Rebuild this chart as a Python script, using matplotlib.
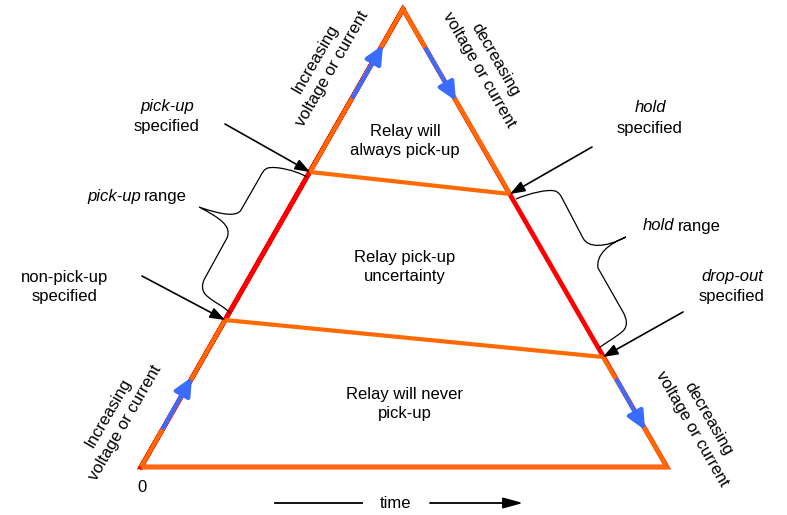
import matplotlib
matplotlib.use("Agg")
import matplotlib.pyplot as plt
from matplotlib.patches import FancyArrowPatch, PathPatch
from matplotlib.path import Path

plt.rcParams['font.family'] = ['Liberation Sans', 'DejaVu Sans']

# ---------------------------
# Geometry (pixel coords of the 787x515 picture, y down)
# ---------------------------
BOTTOM_LEFT = (141, 467)
APEX = (403, 9)
BOTTOM_RIGHT = (667, 467)
PICKUP = (310, 172)
NON_PICKUP = (225, 320)
HOLD = (510, 194)
DROP_OUT = (603, 357)

# blue direction arrows along the sides (start, tip)
BLUE_ARROWS = [((353, 97), (383, 45)),
               ((426, 49), (456, 101)),
               ((163, 428), (192, 377)),
               ((617, 380), (645, 430))]

# black pointer arrows (tail, head)
POINTERS = [((225, 124), PICKUP),
            ((142, 276), NON_PICKUP),
            ((592, 147), HOLD),
            ((683, 312), DROP_OUT)]

# curly braces, as (verts, codes) bezier outlines
LEFT_BRACE = [(307, 177), (295, 170), (275, 166), (268, 168),
              (264, 169), (262, 173), (260, 177),
              (241, 210),
              (237, 217), (222, 215), (199, 207),
              (220, 218), (232, 226), (227, 238),
              (205, 278),
              (201, 285), (202, 292), (207, 296),
              (215, 303), (225, 307), (230, 313)]
RIGHT_BRACE = [(516, 199), (530, 193), (548, 189), (555, 191),
               (558, 192), (560, 194), (562, 198),
               (583, 238),
               (588, 248), (605, 248), (626, 237),
               (608, 244), (596, 255), (598, 268),
               (623, 312),
               (627, 319), (628, 326), (623, 331),
               (615, 338), (605, 343), (599, 348)]
C, L = Path.CURVE4, Path.LINETO
BRACE_CODES = [Path.MOVETO, C, C, C, C, C, C, L, C, C, C, C, C, C, L,
               C, C, C, C, C, C]

ORANGE = "#ff6a00"
RED = "#ff0000"
BLUE = "#3a6cff"

# plain centred labels: (x, y, text)
CENTER_TEXT = [(405, 141, "Relay will\nalways pick-up"),
               (405, 267, "Relay pick-up\nuncertainty"),
               (405, 404, "Relay will never\npick-up"),
               (167, 127, "specified"),
               (65, 287, "non-pick-up\nspecified"),
               (650, 128, "specified"),
               (732, 297, "specified"),
               (142, 487, "0"),
               (395, 503, "time")]
ITALIC_TEXT = [(167, 107, "pick-up"),
               (650, 108, "hold"),
               (732, 277, "drop-out")]

fig = plt.figure(figsize=(7.87, 5.15), dpi=100)
ax = fig.add_axes([0, 0, 1, 1])
ax.set_xlim(0, 787)
ax.set_ylim(515, 0)
ax.axis("off")

# ---------------------------
# Triangle
# ---------------------------
tri_x = [BOTTOM_LEFT[0], APEX[0], BOTTOM_RIGHT[0], BOTTOM_LEFT[0], APEX[0]]
tri_y = [BOTTOM_LEFT[1], APEX[1], BOTTOM_RIGHT[1], BOTTOM_LEFT[1], APEX[1]]
ax.plot(tri_x, tri_y, color=RED, lw=3.4, solid_joinstyle="miter", zorder=1)

orange_segs = [[BOTTOM_LEFT, NON_PICKUP], [PICKUP, APEX, HOLD],
               [DROP_OUT, BOTTOM_RIGHT, BOTTOM_LEFT],
               [PICKUP, HOLD], [NON_PICKUP, DROP_OUT]]
for seg in orange_segs:
    ax.plot([p[0] for p in seg], [p[1] for p in seg], color=ORANGE, lw=3.0,
            solid_joinstyle="miter", solid_capstyle="butt", zorder=2)

for start, tip in BLUE_ARROWS:
    ax.add_patch(FancyArrowPatch(start, tip, arrowstyle="-|>,head_length=0.55,head_width=0.26",
                                 mutation_scale=20, color=BLUE, lw=3.0,
                                 shrinkA=0, shrinkB=0, zorder=3))

for tail, head in POINTERS:
    ax.add_patch(FancyArrowPatch(tail, head, arrowstyle="-|>,head_length=0.6,head_width=0.22",
                                 mutation_scale=15, color="black", lw=1.2,
                                 shrinkA=0, shrinkB=0, zorder=4))

for verts in (LEFT_BRACE, RIGHT_BRACE):
    ax.add_patch(PathPatch(Path(verts, BRACE_CODES), fill=False,
                           edgecolor="black", lw=0.9, zorder=4))

# time arrow
ax.plot([275, 362], [503, 503], color="black", lw=1.3)
ax.add_patch(FancyArrowPatch((430, 503), (523, 503), arrowstyle="-|>,head_length=0.8,head_width=0.22",
                             mutation_scale=15, color="black", lw=1.3,
                             shrinkA=0, shrinkB=0))

# ---------------------------
# Text
# ---------------------------
FS = 12
for x, y, s in CENTER_TEXT:
    ax.text(x, y, s, ha="center", va="center", fontsize=FS,
            multialignment="center", linespacing=1.4)
for x, y, s in ITALIC_TEXT:
    ax.text(x, y, s, ha="center", va="center", fontsize=FS, style="italic")

ax.text(141, 196, "pick-up", ha="right", va="center", fontsize=FS, style="italic")
ax.text(144, 196, "range", ha="left", va="center", fontsize=FS)
ax.text(674, 226, "hold", ha="right", va="center", fontsize=FS, style="italic")
ax.text(678, 226, "range", ha="left", va="center", fontsize=FS)

side_labels = [(324, 64, 60, "Increasing\nvoltage or current"),
               (487, 65, -60, "decreasing\nvoltage or current"),
               (117, 418, 60, "Increasing\nvoltage or current"),
               (700, 424, -60, "decreasing\nvoltage or current")]
for x, y, rot, s in side_labels:
    ax.text(x, y, s, ha="center", va="center", fontsize=FS, rotation=rot,
            rotation_mode="anchor", multialignment="center", linespacing=1.35)

fig.savefig("out.png", dpi=100)
